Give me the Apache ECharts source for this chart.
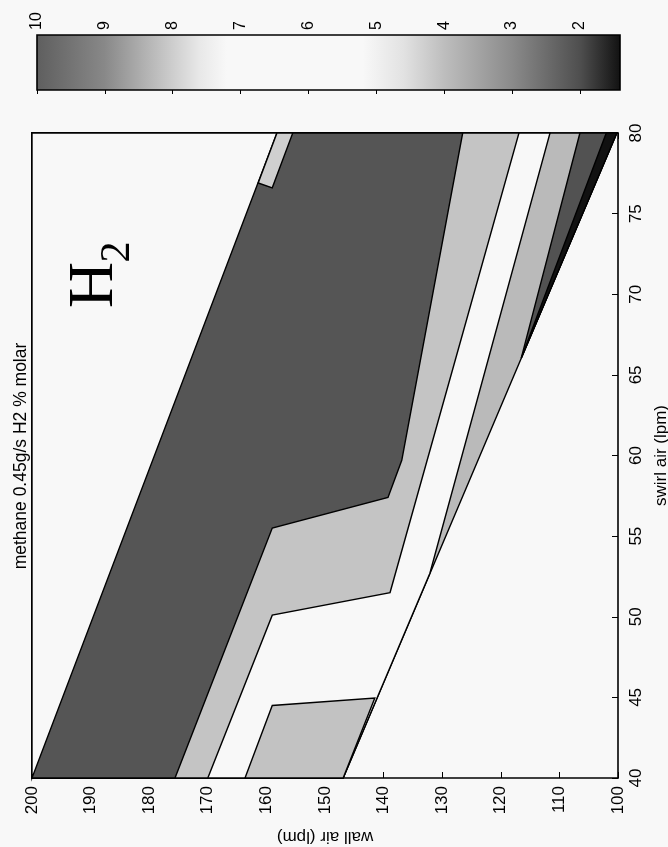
<!DOCTYPE html>
<html><head><meta charset="utf-8">
<script src="https://cdn.jsdelivr.net/npm/echarts@6/dist/echarts.min.js"></script>
<style>html,body{margin:0;padding:0;background:#f8f8f8;} #c{width:668px;height:847px;}</style>
</head><body><div id="c"></div>
<script>
// ---- data ----
const wallTicks = [100,110,120,130,140,150,160,170,180,190,200];
const swirlTicks = [40,45,50,55,60,65,70,75,80];
const colorbarTicks = [2,3,4,5,6,7,8,9,10];
const colorbarRange = [1.41, 10];
const colorbarLevels = [10, 9, 8.4, 7.6, 7.2, 5.2, 4.6, 4, 3, 2, 1.41];

// contour regions as [wall air, swirl air] vertices, painted in order
const bandMedium  = [[200,80],[100.2,80],[146.9,40],[200,40]];
const bandWhite   = [[200,80],[111.6,80],[132.1,52.7],[146.9,40],[200,40]];
const bandLight   = [[200,80],[116.9,80],[138.9,51.5],[159.0,50.1],[170.0,40],[200,40]];
const bandDark    = [[200,80],[126.5,80],[136.9,59.7],[139.25,57.4],[159.0,55.5],[175.6,40],[200,40]];
const cornerWhite = [[200,80],[158.2,80],[200,40]];
const stripLight  = [[158.2,80],[155.5,80],[159.0,76.6],[161.4,76.9]];
const patchLight  = [[163.65,40],[159.0,44.5],[141.5,44.96],[146.9,40]];
const wedgeDark   = [[106.5,80],[100.2,80],[116.5,66.05]];
const sliverBlack = [[102.0,80],[100.2,80],[116.5,66.05]];

// ---- styles ----
const colorbarShades = ['#5e5e5e','#888888','#b2b2b2','#e8e8e8','#f8f8f8','#f8f8f8','#e2e2e2','#bdbdbd','#8a8a8a','#4e4e4e','#111111'];
const regions = [
  {points: bandMedium,  fill: '#bababa'},
  {points: bandWhite,   fill: '#f8f8f8'},
  {points: bandLight,   fill: '#c4c4c4'},
  {points: bandDark,    fill: '#555555'},
  {points: cornerWhite, fill: '#f8f8f8'},
  {points: stripLight,  fill: '#cfcfcf'},
  {points: patchLight,  fill: '#c2c2c2'},
  {points: wedgeDark,   fill: '#525252'},
  {points: sliverBlack, fill: '#111111'}
];
const FONT = '"Liberation Sans", Arial, sans-serif';

const chart = echarts.init(document.getElementById('c'), null, {renderer: 'canvas'});

function renderRegion(params, api) {
  const r = regions[params.dataIndex];
  const pts = r.points.map(p => api.coord(p));
  return {type: 'polygon', shape: {points: pts},
    style: {fill: r.fill, stroke: '#000', lineWidth: 1.4, lineJoin: 'miter'}};
}

function renderColorbar(params, api) {
  const a = api.coord([colorbarRange[1], 0]);
  const b = api.coord([colorbarRange[0], 1]);
  const x0 = Math.min(a[0], b[0]), x1 = Math.max(a[0], b[0]);
  const y0 = Math.min(a[1], b[1]), y1 = Math.max(a[1], b[1]);
  const stops = colorbarLevels.map((v, i) => ({
    offset: (api.coord([v, 0])[0] - x0) / (x1 - x0),
    color: colorbarShades[i]
  }));
  return {type: 'rect', shape: {x: x0, y: y0, width: x1 - x0, height: y1 - y0},
    style: {fill: new echarts.graphic.LinearGradient(0, 0, 1, 0, stops), stroke: '#000', lineWidth: 1.6}};
}

const tickStyle = {show: true, inside: true, length: 6, lineStyle: {color: '#000', width: 1}};
const lineStyle = {show: true, lineStyle: {color: '#000', width: 1.6}};

chart.setOption({
  backgroundColor: '#f8f8f8',
  animation: false,
  grid: [
    {left: 32, right: 50, top: 133, bottom: 69, outerBoundsMode: 'none'},
    {left: 37, right: 48, top: 35, height: 55, outerBoundsMode: 'none'}
  ],
  xAxis: [
    {gridIndex: 0, type: 'value', position: 'bottom', inverse: true, min: 100, max: 200, interval: 10,
     axisLine: lineStyle, axisTick: tickStyle, splitLine: {show: false},
     axisLabel: {rotate: 90, fontSize: 17, color: '#000', fontFamily: FONT, margin: 8, interval: 0,
                 showMinLabel: true, showMaxLabel: true, customValues: wallTicks},
     name: 'wall air (lpm)', nameLocation: 'middle', nameRotate: 180, nameGap: 50,
     nameTextStyle: {fontSize: 17, color: '#000', fontFamily: FONT}},
    {gridIndex: 0, type: 'value', position: 'top', inverse: true, min: 100, max: 200, interval: 10,
     axisLine: lineStyle, axisTick: tickStyle, axisLabel: {show: false}, splitLine: {show: false}},
    {gridIndex: 1, type: 'value', position: 'top', inverse: true, min: colorbarRange[0], max: colorbarRange[1],
     axisLine: {show: false}, splitLine: {show: false},
     axisTick: {show: true, inside: true, length: 4, lineStyle: {color: '#000'}, customValues: colorbarTicks},
     axisLabel: {rotate: 90, fontSize: 16, color: '#000', fontFamily: FONT, margin: 5, customValues: colorbarTicks}},
    {gridIndex: 1, type: 'value', position: 'bottom', inverse: true, min: colorbarRange[0], max: colorbarRange[1],
     axisLine: {show: false}, splitLine: {show: false}, axisLabel: {show: false},
     axisTick: {show: true, inside: true, length: 4, lineStyle: {color: '#000'}, customValues: colorbarTicks}}
  ],
  yAxis: [
    {gridIndex: 0, type: 'value', position: 'right', min: 40, max: 80, interval: 5,
     axisLine: lineStyle, axisTick: tickStyle, splitLine: {show: false},
     axisLabel: {rotate: 90, fontSize: 17, color: '#000', fontFamily: FONT, margin: 10, interval: 0,
                 showMinLabel: true, showMaxLabel: true, customValues: swirlTicks},
     name: 'swirl air (lpm)', nameLocation: 'middle', nameRotate: 90, nameGap: 33,
     nameTextStyle: {fontSize: 17, color: '#000', fontFamily: FONT}},
    {gridIndex: 0, type: 'value', position: 'left', min: 40, max: 80, interval: 5,
     axisLine: lineStyle, axisTick: tickStyle, axisLabel: {show: false}, splitLine: {show: false}},
    {gridIndex: 1, type: 'value', min: 0, max: 1, show: false}
  ],
  series: [
    {type: 'custom', xAxisIndex: 0, yAxisIndex: 0, renderItem: renderRegion,
     data: regions.map(r => r.points[0]), z: 1, silent: true},
    {type: 'custom', xAxisIndex: 2, yAxisIndex: 2, renderItem: renderColorbar,
     data: [[colorbarRange[1], 0]], z: 1, silent: true}
  ],
  graphic: [
    {type: 'text', x: 21, y: 456, rotation: Math.PI / 2, z: 10,
     style: {text: 'methane 0.45g/s H2 % molar', fontSize: 17.5, fontFamily: FONT, fill: '#000',
             align: 'center', verticalAlign: 'middle'}},
    {type: 'text', x: 95, y: 285, rotation: Math.PI / 2, z: 10,
     style: {text: 'H', fontSize: 64, fontFamily: '"Liberation Serif", "Times New Roman", serif', fill: '#000',
             align: 'center', verticalAlign: 'middle'}},
    {type: 'text', x: 118, y: 252, rotation: Math.PI / 2, z: 10,
     style: {text: '2', fontSize: 42, fontFamily: '"Liberation Serif", "Times New Roman", serif', fill: '#000',
             align: 'center', verticalAlign: 'middle'}}
  ]
});
</script>
</body></html>
